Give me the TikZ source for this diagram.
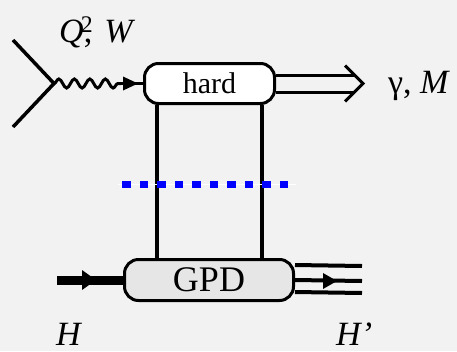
\documentclass[tikz,border=0pt]{standalone}
\usepackage{fontspec}
\setmainfont{Liberation Serif}
\usetikzlibrary{backgrounds,decorations.pathmorphing}
\definecolor{bgc}{HTML}{F2F2F2}
\definecolor{gpdc}{HTML}{E6E6E6}
\definecolor{cutc}{HTML}{0000FF}
\begin{document}
\begin{tikzpicture}[x=1pt,y=-1pt,
  box/.style={draw=black, line width=3pt, rounded corners=14pt, inner sep=0pt},
  lbl/.style={inner sep=0pt, anchor=base west, font=\fontsize{34}{36}\selectfont},
  ln/.style={line width=4pt}]
\useasboundingbox (0,0) rectangle (457,351);
% nodes
\node[box, fill=white, minimum width=130pt, minimum height=40pt, font=\fontsize{30}{32}\selectfont] (hard) at (209.5,83.5) {hard};
\node[box, fill=gpdc, minimum width=169pt, minimum height=41pt, font=\fontsize{36}{38}\selectfont] (gpd) at (209,280) {GPD};
% coordinates
\coordinate (e1) at (13,40);
\coordinate (e2) at (13,127);
\coordinate (v) at (54,83.5);
\coordinate (w) at (121,83.5);
\coordinate (l1) at (157,0);
\coordinate (l2) at (262,0);
\coordinate (out) at (363,83.5);
\coordinate (hin) at (57,280);
\coordinate (hout) at (362,281);
\begin{scope}[on background layer]
  \fill[bgc] (0,0) rectangle (457,351);
  % electron lines
  \draw[line width=3.5pt] (e1) -- (v) -- (e2);
  % photon
  \draw[line width=3pt, decorate, decoration={snake, segment length=15.5pt, amplitude=4.5pt}] (v) -- (w);
  \draw[line width=3pt] (w) -- (hard.west);
  \fill ([xshift=2pt]w) ++(0,-7) -- ++(15,7) -- ++(-15,7) -- cycle;
  % t-channel lines
  \draw[ln] (hard.south -| l1) -- (gpd.north -| l1);
  \draw[ln] (hard.south -| l2) -- (gpd.north -| l2);
  % outgoing double arrow
  \draw[line width=3pt] ([shift={(0,-8.5)}]hard.east) -- ([shift={(-8.5,-8.5)}]out);
  \draw[line width=3pt] ([shift={(0,8.5)}]hard.east) -- ([shift={(-8.5,8.5)}]out);
  \draw[line width=3pt, line cap=butt] ([shift={(-18,-18)}]out) -- (out) -- ([shift={(-18,18)}]out);
  % incoming hadron
  \draw[line width=9pt] (hin) -- (gpd.west);
  \fill ([xshift=25pt]hin) ++(0,-10) -- ++(14,10) -- ++(-14,10) -- cycle;
  % outgoing hadron
  \draw[ln] ([shift={(0,-15)}]hout) -- ([shift={(0,-15)}]gpd.east);
  \draw[ln] (hout) -- (gpd.east);
  \draw[ln] ([shift={(0,12)}]hout) -- ([shift={(0,12)}]gpd.east);
  \fill ([xshift=-39pt]hout) ++(0,-8) -- ++(14,8) -- ++(-14,8) -- cycle;
\end{scope}
% cut line
\draw[white, line width=1pt] (118,184) -- (296,184);
\draw[cutc, line width=7pt, dash pattern=on 8.5pt off 9pt] (122.3,184) -- (289,184);
% labels
\node[lbl] (qw) at (59,42) {\textit{Q}\rlap{\kern-3pt\textsuperscript{2}},\hspace{12pt}\textit{W}};
\node[lbl] (gm) at (388,93) {γ, \textit{M}};
\node[lbl] (h1) at (56,345) {\textit{H}};
\node[lbl] (h2) at (336,345) {\textit{H’}};
\end{tikzpicture}
\end{document}
